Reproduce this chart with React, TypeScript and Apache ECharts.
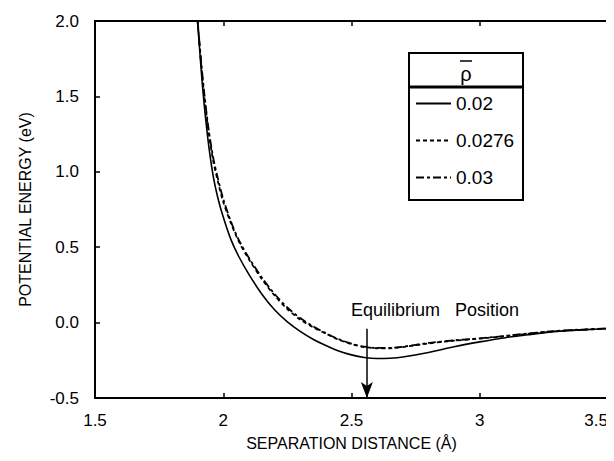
import React, { useEffect, useRef } from "react";
import * as echarts from "echarts";

const seriesNames = ["0.02", "0.0276", "0.03"];

const xSolid = [1.9, 1.92, 1.94, 1.96, 1.98, 2.0, 2.03, 2.06, 2.1, 2.15, 2.2, 2.25, 2.3, 2.35, 2.4, 2.45, 2.5, 2.55, 2.6, 2.65, 2.7, 2.8, 2.9, 3.0, 3.1, 3.2, 3.3, 3.4, 3.5];
const ySolid = [2.0, 1.55, 1.22, 0.98, 0.82, 0.7, 0.55, 0.44, 0.32, 0.19, 0.085, 0.005, -0.058, -0.11, -0.152, -0.188, -0.214, -0.231, -0.238, -0.236, -0.228, -0.198, -0.16, -0.128, -0.1, -0.078, -0.058, -0.048, -0.04];

const xDot = [1.9, 1.92, 1.94, 1.96, 1.98, 2.0, 2.03, 2.06, 2.1, 2.15, 2.2, 2.25, 2.3, 2.35, 2.4, 2.45, 2.5, 2.55, 2.6, 2.65, 2.7, 2.8, 2.9, 3.0, 3.1, 3.2, 3.3, 3.4, 3.5];
const yDot = [2.0, 1.6, 1.3, 1.08, 0.93, 0.8, 0.66, 0.54, 0.42, 0.29, 0.18, 0.09, 0.02, -0.03, -0.073, -0.113, -0.143, -0.162, -0.17, -0.17, -0.162, -0.138, -0.12, -0.106, -0.09, -0.072, -0.057, -0.048, -0.04];

const xDash = [1.9, 1.92, 1.94, 1.96, 1.98, 2.0, 2.03, 2.06, 2.1, 2.15, 2.2, 2.25, 2.3, 2.35, 2.4, 2.45, 2.5, 2.55, 2.6, 2.65, 2.7, 2.8, 2.9, 3.0, 3.1, 3.2, 3.3, 3.4, 3.5];
const yDash = [2.0, 1.62, 1.32, 1.1, 0.95, 0.82, 0.67, 0.55, 0.43, 0.3, 0.19, 0.1, 0.03, -0.025, -0.07, -0.11, -0.14, -0.16, -0.168, -0.168, -0.16, -0.135, -0.118, -0.104, -0.088, -0.07, -0.055, -0.046, -0.038];

const xTicks = [1.5, 2, 2.5, 3, 3.5];
const yTicks = [-0.5, 0, 0.5, 1, 1.5, 2];

const equilibriumX = 2.56;
const arrowTopY = -0.04;

const FONT = "Liberation Sans";

const pairs = (xs: number[], ys: number[]) => xs.map((x, i) => [x, ys[i]]);

export default function App() {
  const ref = useRef<HTMLDivElement>(null);
  useEffect(() => {
    if (!ref.current) return;
    const chart = echarts.init(ref.current, undefined, { renderer: "svg" });
    const axisLine = { show: true, onZero: false, lineStyle: { color: "#000", width: 2 } };
    const tick = { show: true, inside: true, length: 5, lineStyle: { color: "#000", width: 1.5 } };
    chart.setOption({
      animation: false,
      backgroundColor: "#fff",
      grid: { left: 87, right: 14, top: 13, bottom: 71, show: true, borderColor: "#000", borderWidth: 2 },
      legend: {
        orient: "vertical",
        left: 407,
        top: 86,
        padding: 0,
        itemWidth: 35,
        itemHeight: 14,
        itemGap: 18,
        data: seriesNames,
        itemStyle: { opacity: 0 },
        textStyle: { fontFamily: FONT, fontSize: 19, color: "#000" },
      },
      xAxis: [
        {
          type: "value",
          min: xTicks[0],
          max: xTicks[xTicks.length - 1],
          interval: 0.5,
          axisLine,
          axisTick: tick,
          axisLabel: { margin: 14, fontFamily: FONT, fontSize: 17, color: "#000", alignMaxLabel: "right" },
          splitLine: { show: false },
          name: "SEPARATION DISTANCE (Å)",
          nameLocation: "middle",
          nameGap: 37,
          nameTextStyle: { fontFamily: FONT, fontSize: 16, color: "#000" },
        },
        {
          type: "value",
          position: "top",
          min: xTicks[0],
          max: xTicks[xTicks.length - 1],
          interval: 0.5,
          axisLine,
          axisTick: tick,
          axisLabel: { show: false },
          splitLine: { show: false },
        },
      ],
      yAxis: {
        type: "value",
        min: yTicks[0],
        max: yTicks[yTicks.length - 1],
        interval: 0.5,
        axisLine,
        axisTick: tick,
        axisLabel: {
          margin: 16,
          fontFamily: FONT,
          fontSize: 17,
          color: "#000",
          formatter: (v: number) => v.toFixed(1),
        },
        splitLine: { show: false },
        name: "POTENTIAL ENERGY (eV)",
        nameLocation: "middle",
        nameGap: 62,
        nameTextStyle: { fontFamily: FONT, fontSize: 16, color: "#000" },
      },
      series: [
        {
          name: seriesNames[0],
          type: "line",
          data: pairs(xSolid, ySolid),
          smooth: 0.3,
          symbol: "none",
          itemStyle: { color: "#000" },
          lineStyle: { color: "#000", width: 1.6, type: "solid" },
          markLine: {
            silent: true,
            symbol: ["none", "arrow"],
            symbolSize: [9, 16],
            label: { show: false },
            lineStyle: { color: "#000", width: 1.5, type: "solid" },
            data: [[{ coord: [equilibriumX, arrowTopY] }, { coord: [equilibriumX, yTicks[0]] }]],
          },
        },
        {
          name: seriesNames[1],
          type: "line",
          data: pairs(xDot, yDot),
          smooth: 0.3,
          symbol: "none",
          itemStyle: { color: "#000" },
          lineStyle: { color: "#000", width: 1.8, type: [4, 3] },
        },
        {
          name: seriesNames[2],
          type: "line",
          data: pairs(xDash, yDash),
          smooth: 0.3,
          symbol: "none",
          itemStyle: { color: "#000" },
          lineStyle: { color: "#000", width: 1.8, type: [8, 3, 3, 3] },
        },
      ],
      graphic: [
        {
          type: "rect",
          shape: { x: 401, y: 45, width: 114, height: 147 },
          style: { fill: "none", stroke: "#000", lineWidth: 2 },
          z: 10,
        },
        {
          type: "line",
          shape: { x1: 401, y1: 79, x2: 515, y2: 79 },
          style: { stroke: "#000", lineWidth: 3 },
          z: 10,
        },
        {
          type: "text",
          x: 458,
          y: 66,
          style: { text: "ρ", fontFamily: FONT, fontSize: 20, fill: "#000", align: "center", verticalAlign: "middle" },
          z: 10,
        },
        {
          type: "line",
          shape: { x1: 452, y1: 53, x2: 464, y2: 53 },
          style: { stroke: "#000", lineWidth: 1.5 },
          z: 10,
        },
        {
          type: "text",
          x: 343,
          y: 302,
          style: {
            text: "Equilibrium   Position",
            fontFamily: FONT,
            fontSize: 18,
            fill: "#000",
            align: "left",
            verticalAlign: "middle",
          },
          z: 10,
        },
      ],
    });
    return () => chart.dispose();
  }, []);
  return <div ref={ref} style={{ width: 614, height: 461 }} />;
}
